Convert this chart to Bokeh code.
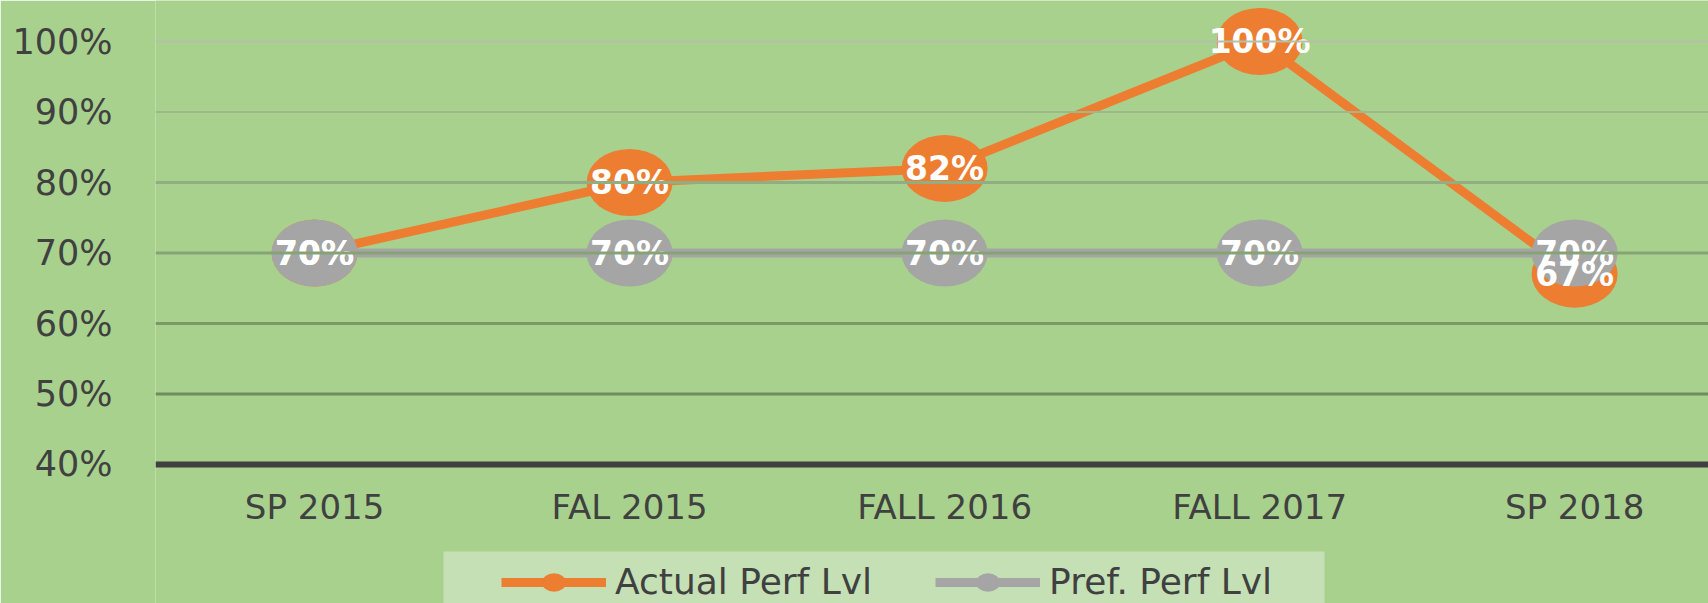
from bokeh.plotting import figure
from bokeh.models import (Range1d, FixedTicker, ColumnDataSource, Span, Legend, LegendItem,
                          BoxAnnotation)
from bokeh.core.properties import value
from bokeh.embed import file_html
from bokeh.resources import INLINE

categories = ["SP 2015", "FAL 2015", "FALL 2016", "FALL 2017", "SP 2018"]
actual = [70, 80, 82, 100, 67]
preferred = [70, 70, 70, 70, 70]
y_ticks = [40, 50, 60, 70, 80, 90, 100]
y_tick_labels = ["40%", "50%", "60%", "70%", "80%", "90%", "100%"]
series_names = ["Actual Perf Lvl", "Pref. Perf Lvl"]

BG = "#a9d18e"
LEG_BG = "#c5e0b4"
ORANGE = "#ed7d31"
GRAY = "#a5a5a5"
TXT = "#404040"
grid_colors = {50: "#6f8b60", 60: "#7b986a", 70: "#86a376", 80: "#91ad83", 90: "#9db78f", 100: "#b2c1a7"}
grid_widths = {50: 3, 60: 3, 70: 3, 80: 3, 90: 2, 100: 2}

src = ColumnDataSource(dict(
    x=list(range(len(categories))),
    actual=actual,
    preferred=preferred,
    actual_lbl=[f"{v}%" for v in actual],
    preferred_lbl=[f"{v}%" for v in preferred],
))

p = figure(width=1708, height=603, output_backend="svg", toolbar_location=None,
           x_range=Range1d(-0.505, 4.425), y_range=Range1d(20.28, 105.82),
           min_border_left=155, min_border_right=0, min_border_top=0, min_border_bottom=0,
           background_fill_color=BG, border_fill_color=BG, outline_line_color=None)
p.title.visible = False
p.xgrid.visible = False
p.ygrid.visible = False

for t in y_ticks[1:]:
    p.add_layout(Span(location=t, dimension="width", line_color=grid_colors[t], line_width=grid_widths[t]))

# axes
p.yaxis.ticker = FixedTicker(ticks=y_ticks)
p.yaxis.major_label_overrides = {t: l for t, l in zip(y_ticks, y_tick_labels)}
p.yaxis.axis_line_color = None
p.yaxis.major_tick_line_color = None
p.yaxis.minor_tick_line_color = None
p.yaxis.major_label_standoff = 37
p.yaxis.major_label_text_font = "DejaVu Sans"
p.yaxis.major_label_text_font_size = "35px"
p.yaxis.major_label_text_color = TXT

p.xaxis.fixed_location = y_ticks[0]
p.xaxis.ticker = FixedTicker(ticks=list(range(len(categories))))
p.xaxis.major_label_overrides = {i: c for i, c in enumerate(categories)}
p.xaxis.axis_line_color = TXT
p.xaxis.axis_line_width = 6
p.xaxis.major_tick_line_color = None
p.xaxis.minor_tick_line_color = None
p.xaxis.major_label_standoff = 17
p.xaxis.major_label_text_font = "DejaVu Sans"
p.xaxis.major_label_text_font_size = "34px"
p.xaxis.major_label_text_color = TXT

ol = p.line("x", "actual", source=src, line_color=ORANGE, line_width=9)
oe = p.ellipse("x", "actual", width=86, height=67, width_units="screen", height_units="screen",
               fill_color=ORANGE, line_color=None, source=src)
gl = p.line("x", "preferred", source=src, line_color=GRAY, line_width=9)
ge = p.ellipse("x", "preferred", width=86, height=67, width_units="screen", height_units="screen",
               fill_color=GRAY, line_color=None, source=src)

for col, yc in (("actual_lbl", "actual"), ("preferred_lbl", "preferred")):
    p.text("x", yc, text=col, source=src, text_align="center", text_baseline="middle",
           text_color="white", text_font=value("DejaVu Sans"), text_font_style="bold",
           text_font_size="33px")

# legend panel background (frame-relative screen units)
p.add_layout(BoxAnnotation(left=288, right=1169, top=52, bottom=-20,
                           left_units="screen", right_units="screen",
                           top_units="screen", bottom_units="screen",
                           fill_color=LEG_BG, fill_alpha=1.0, line_color=None))

legend = Legend(items=[LegendItem(label=series_names[0], renderers=[ol, oe]),
                       LegendItem(label=series_names[1], renderers=[gl, ge])],
                orientation="horizontal", location=(346, 1), margin=0, padding=18,
                background_fill_alpha=0.0,
                border_line_color=None, glyph_width=105, glyph_height=30,
                label_standoff=9, spacing=63,
                label_text_font="DejaVu Sans", label_text_font_size="36px",
                label_text_color=TXT)
p.add_layout(legend, "center")

open("out.html", "w").write(file_html(p, INLINE))
